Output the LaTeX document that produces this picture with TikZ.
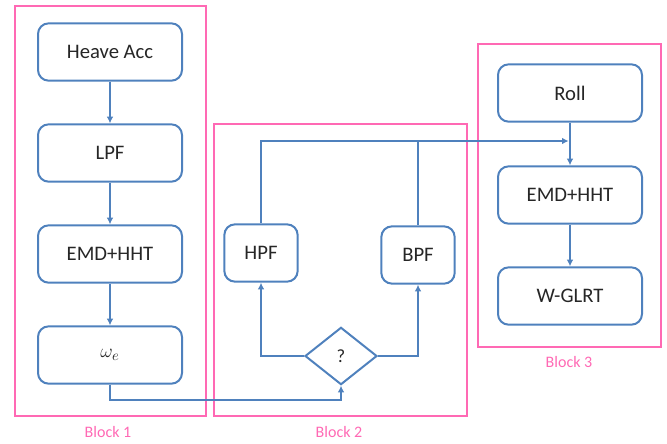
\documentclass[tikz,border=0pt]{standalone}
\usepackage{fontspec}
\setmainfont{Carlito}
\usetikzlibrary{shapes.geometric,arrows.meta}
\definecolor{cus-blue}{RGB}{79,129,189}
\definecolor{cus-pink}{RGB}{255,105,180}

\begin{document}
\begin{tikzpicture}[x=0.75pt,y=-0.75pt,
	box/.style={draw=cus-blue,line width=1.5pt,rounded corners=8pt,minimum width=108pt,minimum height=43pt,font=\fontsize{15.5}{18}\selectfont,text=black!85},
	sbox/.style={box,minimum width=55pt},
	decide/.style={diamond,draw=cus-blue,line width=1.5pt,minimum width=54pt,minimum height=43pt,inner sep=0pt,font=\fontsize{14}{16}\selectfont,text=black!85},
	blk/.style={draw=cus-pink,line width=0.8pt},
	blklabel/.style={text=cus-pink,font=\fontsize{12}{14}\selectfont},
	wire/.style={draw=cus-blue,line width=1.5pt},
	link/.style={wire,-{Latex[length=5pt,width=5pt]}}]
\useasboundingbox (0,0) rectangle (667,443);
\draw [blk] (15,6) rectangle (206,416);
\draw [blk] (214,124) rectangle (467,416);
\draw [blk] (478,44) rectangle (661,347);
\node [blklabel] (lab1) at (108,432) {Block 1};
\node [blklabel] (lab2) at (339,432) {Block 2};
\node [blklabel] (lab3) at (569,362) {Block 3};
\node [box] (heave) at (110,52) {Heave Acc};
\node [box] (lpf) at (110,153) {LPF};
\node [box] (emd1) at (110,254) {EMD+HHT};
\node [box] (omega) at (110,355) {$\omega_e$};
\node [sbox] (hpf) at (261,253) {HPF};
\node [sbox] (bpf) at (418,255) {BPF};
\node [decide] (q) at (341,356) {?};
\node [box] (roll) at (570,93) {Roll};
\node [box] (emd3) at (570,195) {EMD+HHT};
\node [box] (wglrt) at (570,296) {W-GLRT};
\coordinate (join) at (418,141);
\draw [link] (heave) -- (lpf);
\draw [link] (lpf) -- (emd1);
\draw [link] (emd1) -- (omega);
\draw [link] (omega.south) -- ++(0,15) -| (q.south);
\draw [link] (q.west) -| (hpf.south);
\draw [link] (q.east) -| (bpf.south);
\draw [wire] (hpf.north) |- (join) -- (bpf.north);
\draw [link,shorten >=1pt] (join) -- (roll.south |- join);
\draw [link] (roll) -- (emd3);
\draw [link] (emd3) -- (wglrt);
\end{tikzpicture}
\end{document}
